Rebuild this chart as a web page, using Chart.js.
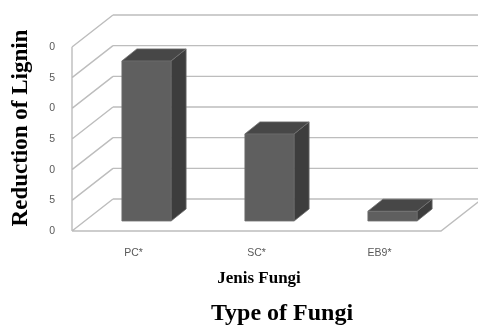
<!DOCTYPE html>
<html>
<head>
<meta charset="utf-8">
<script src="https://cdn.jsdelivr.net/npm/chart.js@4.4.1/dist/chart.umd.min.js"></script>
<style>
  html, body { margin: 0; padding: 0; background: #fff; }
  #wrap { width: 478px; height: 328px; position: relative; }
</style>
</head>
<body>
<div id="wrap"><canvas id="c" width="478" height="328"></canvas></div>
<script>
// Lignin reduction per fungus type
const categories = ['PC*', 'SC*', 'EB9*'];
const reduction = [26.1, 14.2, 1.6];
const yTickLabels = ['0', '5', '0', '5', '0', '5', '0'];
const yAxisTitle = 'Reduction of Lignin';
const xAxisTitle = 'Jenis Fungi';
const xAxisCaption = 'Type of Fungi';

// 3D look: offsets of the front floor edge, back wall and bar depth
const FRONT = { dx: -13, dy: 10 };
const BACK = { dx: 28, dy: -22 };
const BAR_DEPTH = { dx: 15, dy: -12 };
const GRID_COLOR = '#bdbdbd';

const walls3d = {
  id: 'walls3d',
  beforeDatasetsDraw(chart) {
    const { ctx, chartArea: a, scales: { y } } = chart;
    ctx.save();
    ctx.strokeStyle = GRID_COLOR;
    ctx.lineWidth = 1.4;
    ctx.beginPath();
    y.ticks.forEach(t => {
      const py = y.getPixelForValue(t.value);
      // back wall line
      ctx.moveTo(a.left + BACK.dx, py + BACK.dy);
      ctx.lineTo(a.right + BACK.dx, py + BACK.dy);
      // side wall line
      ctx.moveTo(a.left + FRONT.dx, py + FRONT.dy);
      ctx.lineTo(a.left + BACK.dx, py + BACK.dy);
    });
    const y0 = y.getPixelForValue(y.min);
    const yTop = y.getPixelForValue(y.max);
    // side wall front edge
    ctx.moveTo(a.left + FRONT.dx, y0 + FRONT.dy);
    ctx.lineTo(a.left + FRONT.dx, yTop + FRONT.dy);
    // floor front and right edges
    ctx.moveTo(a.left + FRONT.dx, y0 + FRONT.dy);
    ctx.lineTo(a.right + FRONT.dx, y0 + FRONT.dy);
    ctx.lineTo(a.right + BACK.dx, y0 + BACK.dy);
    ctx.stroke();
    ctx.restore();
  },
  afterDatasetsDraw(chart) {
    const { ctx } = chart;
    const meta = chart.getDatasetMeta(0);
    ctx.save();
    meta.data.forEach(bar => {
      const { x, y, base, width } = bar.getProps(['x', 'y', 'base', 'width'], true);
      const l = x - width / 2, r = x + width / 2;
      // side face
      ctx.fillStyle = '#3d3d3d';
      ctx.beginPath();
      ctx.moveTo(r, y);
      ctx.lineTo(r + BAR_DEPTH.dx, y + BAR_DEPTH.dy);
      ctx.lineTo(r + BAR_DEPTH.dx, base + BAR_DEPTH.dy);
      ctx.lineTo(r, base);
      ctx.closePath();
      ctx.fill();
      // top face
      ctx.fillStyle = '#474747';
      ctx.beginPath();
      ctx.moveTo(l, y);
      ctx.lineTo(l + BAR_DEPTH.dx, y + BAR_DEPTH.dy);
      ctx.lineTo(r + BAR_DEPTH.dx, y + BAR_DEPTH.dy);
      ctx.lineTo(r, y);
      ctx.closePath();
      ctx.fill();
      // soft edges
      ctx.strokeStyle = '#6e6e6e';
      ctx.lineWidth = 0.8;
      ctx.beginPath();
      ctx.moveTo(l, base); ctx.lineTo(l, y); ctx.lineTo(r, y); ctx.lineTo(r, base); ctx.closePath();
      ctx.moveTo(l, y); ctx.lineTo(l + BAR_DEPTH.dx, y + BAR_DEPTH.dy);
      ctx.lineTo(r + BAR_DEPTH.dx, y + BAR_DEPTH.dy); ctx.lineTo(r, y);
      ctx.moveTo(r + BAR_DEPTH.dx, y + BAR_DEPTH.dy); ctx.lineTo(r + BAR_DEPTH.dx, base + BAR_DEPTH.dy);
      ctx.lineTo(r, base);
      ctx.stroke();
    });
    ctx.restore();
  },
  afterDraw(chart) {
    const { ctx, chartArea: a } = chart;
    ctx.save();
    ctx.fillStyle = '#000';
    ctx.textAlign = 'center';
    ctx.textBaseline = 'middle';
    // x axis titles
    ctx.font = 'bold 17px "Liberation Serif", serif';
    ctx.fillText(xAxisTitle, a.left + 174, 279);
    ctx.font = 'bold 24px "Liberation Serif", serif';
    ctx.fillText(xAxisCaption, 282, 314);
    // y axis title
    ctx.translate(21, 128);
    ctx.rotate(-Math.PI / 2);
    ctx.font = 'bold 23px "Liberation Serif", serif';
    ctx.fillText(yAxisTitle, 0, 0);
    ctx.restore();
  }
};

new Chart(document.getElementById('c'), {
  type: 'bar',
  data: {
    labels: categories,
    datasets: [{
      data: reduction,
      backgroundColor: '#5f5f5f',
      borderWidth: 0,
      barPercentage: 0.4,
      categoryPercentage: 1.0
    }]
  },
  options: {
    responsive: false,
    animation: false,
    layout: { padding: { top: 37, right: 24, left: 0, bottom: 0 } },
    plugins: { legend: { display: false }, tooltip: { enabled: false }, title: { display: false } },
    scales: {
      x: {
        grid: { display: false, drawTicks: false },
        border: { display: false },
        ticks: {
          padding: 26,
          labelOffset: -13,
          color: '#595959',
          font: { family: '"Liberation Sans", sans-serif', size: 10.5 }
        },
        afterFit(s) { s.height = 107; }
      },
      y: {
        min: 0,
        max: 30,
        grid: { display: false, drawTicks: false },
        border: { display: false },
        ticks: {
          stepSize: 5,
          padding: 30,
          labelOffset: 10,
          color: '#595959',
          font: { family: '"Liberation Sans", sans-serif', size: 10.5 },
          callback: (v, i) => yTickLabels[i]
        },
        afterFit(s) { s.width = 85; }
      }
    }
  },
  plugins: [walls3d]
});
</script>
</body>
</html>
